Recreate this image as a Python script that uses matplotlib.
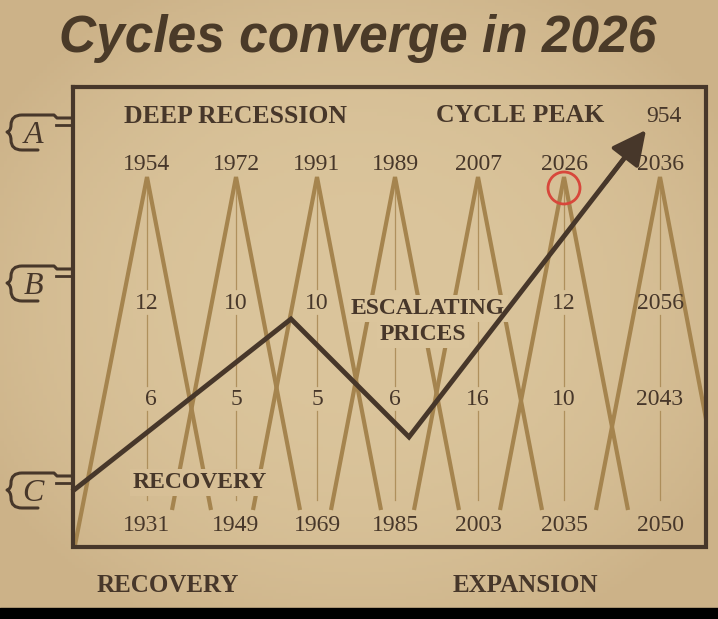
import matplotlib
matplotlib.use('Agg')
import matplotlib.pyplot as plt
from matplotlib.path import Path
from matplotlib.patches import PathPatch
import numpy as np

# cycle labels per column (left to right)
peak_years = ['1954', '1972', '1991', '1989', '2007', '2026', '2036']
mid_labels = ['12', '10', '10', '', '', '12', '2056']
low_labels = ['6', '5', '5', '6', '16', '10', '2043']
base_years = ['1931', '1949', '1969', '1985', '2003', '2035', '2050']

# price path (chart units, y grows downward)
price_x = [74, 291, 409, 646]
price_y = [490, 319, 437, 130]

col_x = [147, 236, 317, 395, 478, 564, 660]

tan = '#a5844e'
dark = '#47372a'
serif = 'Liberation Serif'
W, H = 718, 619

fig = plt.figure(figsize=(7.18, 6.19), dpi=100)
ax = fig.add_axes([0, 0, 1, 1])
ax.set_xlim(0, W)
ax.set_ylim(H, 0)
ax.axis('off')

# parchment background, slightly darker near the edges
c0 = np.array([219, 197, 156]) / 255
c1 = np.array([204, 178, 136]) / 255


def paper(x, y):
    r = np.sqrt(((x / W - 0.5) / 0.6) ** 2 + ((y / 608 - 0.5) / 0.6) ** 2)
    t = np.clip(r ** 2.5, 0, 1)[..., None]
    return c0 * (1 - t) + c1 * t


yy, xx = np.mgrid[0:608:200j, 0:W:200j]
ax.imshow(paper(xx, yy), extent=[0, W, 608, 0], aspect='auto', zorder=0)
ax.fill_between([0, W], 608, H, color='black', zorder=0.5)

# title
ax.text(358, 52, 'Cycles converge in 2026', ha='center', va='baseline',
        fontsize=37, fontweight='bold', fontstyle='italic', family='Liberation Sans',
        color='#4a3a28', zorder=3)

# frame
box_l, box_r, box_t, box_b = 73, 706, 87, 547
ax.plot([box_l, box_r, box_r, box_l, box_l], [box_t, box_t, box_b, box_b, box_t],
        color=dark, lw=3, zorder=4, solid_joinstyle='miter')
clip = plt.Rectangle((box_l, box_t), box_r - box_l, box_b - box_t, transform=ax.transData)

# cycle triangles
apex_y, foot_y = 177, 510
half = 64
for i, x in enumerate(col_x):
    left_end = (x - 72, 545) if i == 0 else (x - half, foot_y)
    right_end = (x + 50, 440) if i == len(col_x) - 1 else (x + half, foot_y)
    leg, = ax.plot([left_end[0], x, right_end[0]], [left_end[1], apex_y, right_end[1]],
                   color=tan, lw=3, zorder=2, solid_joinstyle='miter', solid_capstyle='butt')
    leg.set_clip_path(clip)
    for y0, y1 in [(apex_y + 4, 289), (315, 386), (411, 500)]:
        ax.plot([x, x], [y0, y1], color=tan, lw=0.9, alpha=0.8, zorder=1.8)

for i, x in enumerate(col_x):
    ax.text(x, 170, peak_years[i], ha='center', va='baseline', fontsize=17,
            family=serif, color=dark, zorder=3)
    if mid_labels[i]:
        ax.text(x, 309, mid_labels[i], ha='center', va='baseline', fontsize=17,
                family=serif, color=dark, zorder=3)
    ax.text(x + (4 if i == 0 else 0), 405, low_labels[i], ha='center', va='baseline',
            fontsize=17, family=serif, color=dark, zorder=3)
    ax.text(x, 531, base_years[i], ha='center', va='baseline', fontsize=17,
            family=serif, color=dark, zorder=3)


def boxed(x, y, s):
    fc = paper(np.array(x, float), np.array(y - 6, float))
    ax.text(x, y, s, fontsize=17, zorder=3, family=serif, fontweight='bold', color=dark,
            ha='center', va='baseline',
            bbox=dict(boxstyle='square,pad=0.12', fc=tuple(fc), ec='none'))


bold = dict(family=serif, fontweight='bold', color=dark, ha='center', va='baseline')
ax.text(236, 123, 'DEEP RECESSION', fontsize=18.5, zorder=3, **bold)
ax.text(520, 122, 'CYCLE PEAK', fontsize=18.5, zorder=3, **bold)
ax.text(664, 122, '954', fontsize=17, family=serif, color=dark, ha='center',
        va='baseline', zorder=3)
boxed(428, 314, 'ESCALATING')
boxed(423, 340, 'PRICES')
boxed(200, 488, 'RECOVERY')
ax.text(168, 592, 'RECOVERY', fontsize=18, zorder=3, **bold)
ax.text(525, 592, 'EXPANSION', fontsize=18, zorder=3, **bold)

# price path with arrow
ax.plot(price_x[:-1] + [price_x[-1] - 10], price_y[:-1] + [price_y[-1] + 13],
        color=dark, lw=3.5, zorder=5, solid_joinstyle='miter')
ax.annotate('', xy=(price_x[-1], price_y[-1]),
            xytext=(price_x[-1] - 40, price_y[-1] + 52),
            arrowprops=dict(arrowstyle='-|>,head_length=0.7,head_width=0.35', color=dark,
                            lw=3, mutation_scale=30, shrinkA=0, shrinkB=0), zorder=5)

# red marker on the 2026 peak
ax.add_patch(plt.Circle((564, 188), 16, fill=False, ec='#d8473b', lw=2, zorder=6))

# bracket labels on the left
for letter, yc in [('A', 133), ('B', 284), ('C', 491)]:
    verts = [(box_l, yc - 15), (57, yc - 15), (54, yc - 18), (22, yc - 18),
             (11, yc - 18), (11, yc - 8),
             (11, yc - 2), (7, yc - 1),
             (11, yc + 1), (11, yc + 7),
             (11, yc + 17), (22, yc + 17), (38, yc + 17)]
    codes = [Path.MOVETO, Path.LINETO, Path.LINETO, Path.LINETO,
             Path.CURVE3, Path.CURVE3,
             Path.CURVE3, Path.CURVE3,
             Path.CURVE3, Path.CURVE3,
             Path.CURVE3, Path.CURVE3, Path.LINETO]
    ax.add_patch(PathPatch(Path(verts, codes), fill=False, ec=dark, lw=2.2, zorder=3,
                           capstyle='round', joinstyle='round'))
    ax.plot([56, box_l], [yc - 8, yc - 8], color=dark, lw=2, zorder=3)
    ax.text(33, yc + 10, letter, fontsize=23, family=serif, fontstyle='italic',
            color=dark, ha='center', va='baseline', zorder=3)

fig.savefig('out.png', dpi=100)
